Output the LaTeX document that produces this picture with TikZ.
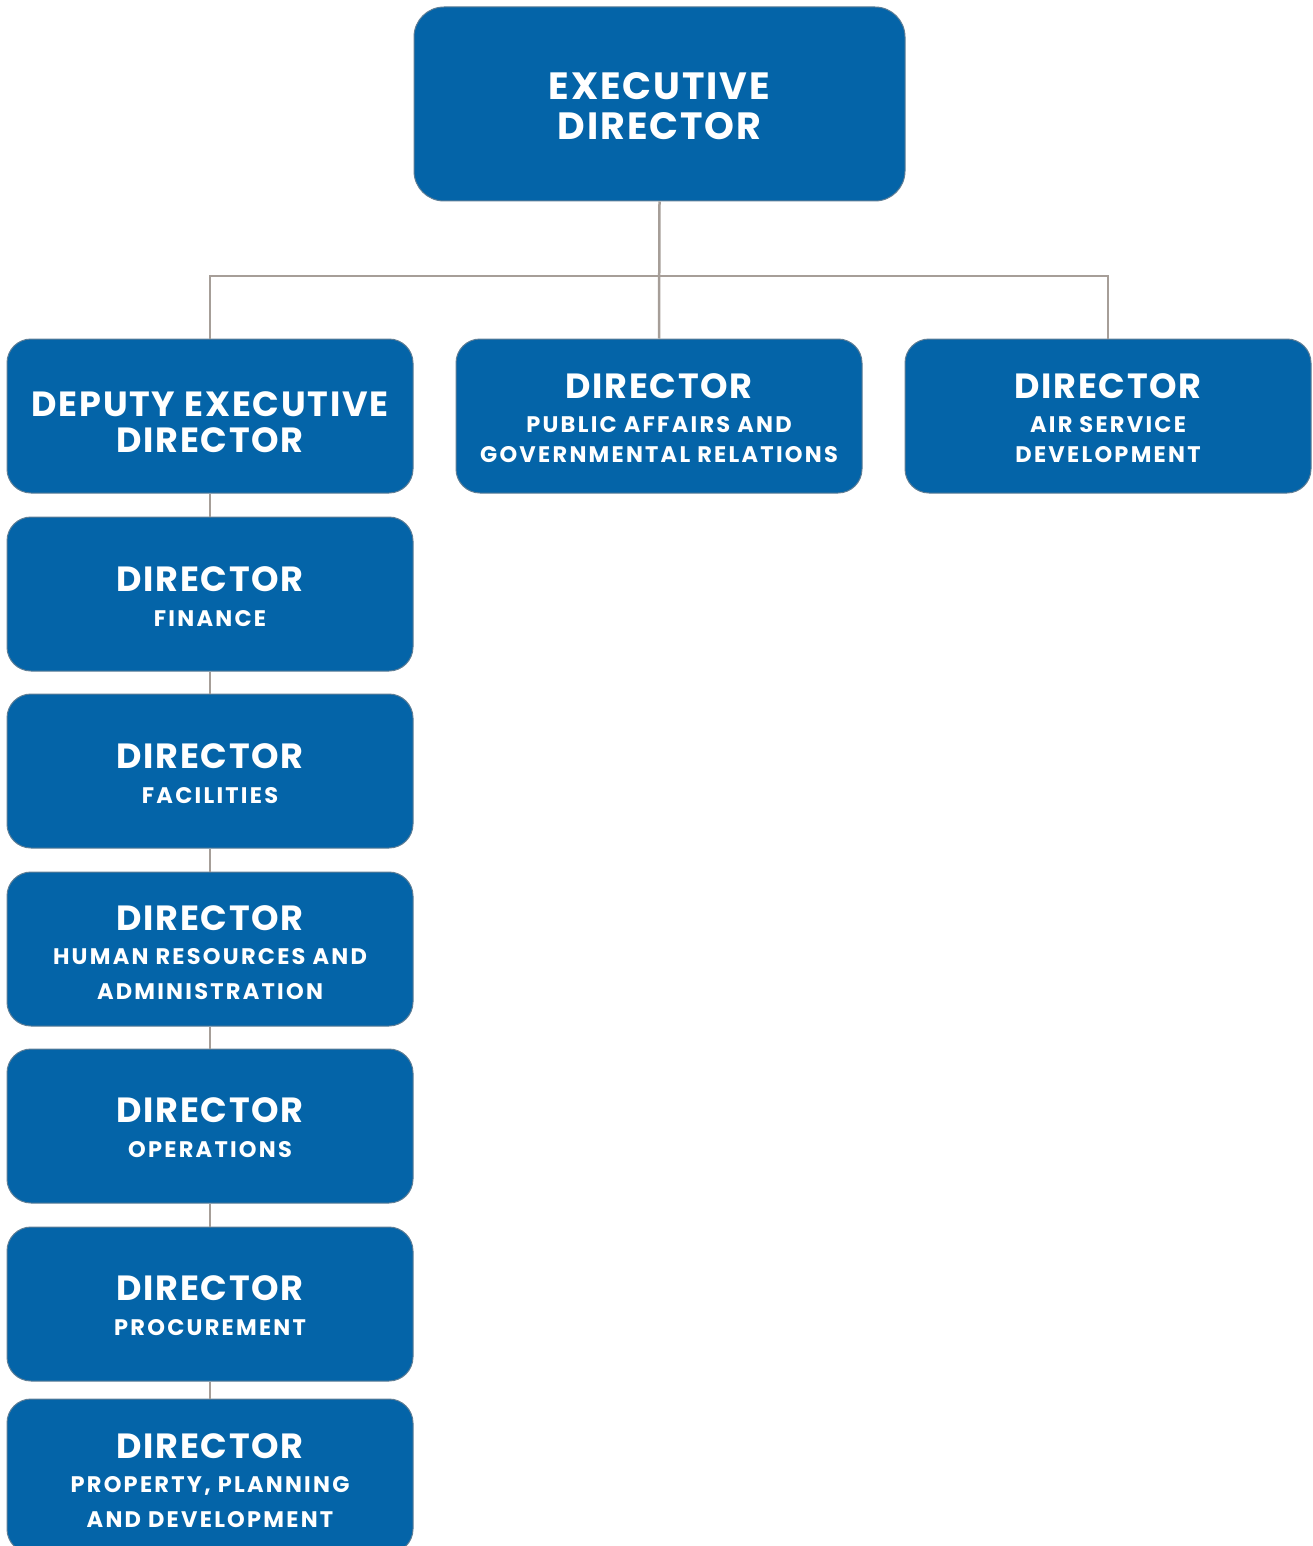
\documentclass[tikz,border=0pt]{standalone}
\usepackage{fontspec}
\setmainfont{Poppins}
\newfontfamily\titlefont{Poppins}[LetterSpace=5]
\newfontfamily\subfont{Poppins}[LetterSpace=10]
\definecolor{boxblue}{HTML}{0464A8}
\definecolor{boxedge}{HTML}{5E7E96}
\definecolor{linegray}{HTML}{A69E98}
\newcommand{\ttl}[1]{{\fontsize{35}{35}\titlefont\bfseries #1}}
\newcommand{\sbt}[1]{{\fontsize{22.5}{35}\subfont\bfseries #1}}
\begin{document}
\begin{tikzpicture}[x=1pt,y=-1pt,
  orgbox/.style={draw=boxedge, line width=1pt, fill=boxblue, rounded corners=24pt,
    minimum width=406pt, minimum height=154pt, inner sep=0pt},
  txt/.style={text=white, align=center, inner sep=0pt, font=\fontsize{22.5}{35}\selectfont},
  conn/.style={draw=linegray, line width=2.5pt}]
\useasboundingbox (0,0) rectangle (1312,1546);
\coordinate (hub) at (659,276);
\node[orgbox, minimum width=491pt, minimum height=194pt, rounded corners=30pt] (exec) at (659.5,104) {};
\node[txt, font=\fontsize{38}{40}\titlefont\bfseries] (exec-t) at ([yshift=-2pt]exec.center) {EXECUTIVE\\DIRECTOR};
\node[orgbox] (dep) at (210,416) {};
\node[txt, font=\fontsize{35}{36}\titlefont\bfseries] (dep-t) at ([yshift=-6pt]dep.center) {DEPUTY EXECUTIVE\\DIRECTOR};
\node[orgbox] (pa) at (659,416) {};
\node[txt] (pa-t) at ([yshift=-2.5pt]pa.center) {\ttl{DIRECTOR}\\[-1pt]\sbt{PUBLIC AFFAIRS AND}\\[-5pt]\sbt{GOVERNMENTAL RELATIONS}};
\node[orgbox] (as) at (1108,416) {};
\node[txt] (as-t) at ([yshift=-2.5pt]as.center) {\ttl{DIRECTOR}\\[-1pt]\sbt{AIR SERVICE}\\[-5pt]\sbt{DEVELOPMENT}};
\node[orgbox] (fin) at (210,594) {};
\node[txt] (fin-t) at ([yshift=-2.5pt]fin.center) {\ttl{DIRECTOR}\\\sbt{FINANCE}};
\node[orgbox] (fac) at (210,771) {};
\node[txt] (fac-t) at ([yshift=-2.5pt]fac.center) {\ttl{DIRECTOR}\\\sbt{FACILITIES}};
\node[orgbox] (hr) at (210,949) {};
\node[txt] (hr-t) at ([yshift=-3.5pt]hr.center) {\ttl{DIRECTOR}\\[-1pt]\sbt{HUMAN RESOURCES AND}\\\sbt{ADMINISTRATION}};
\node[orgbox] (ops) at (210,1126) {};
\node[txt] (ops-t) at ([yshift=-2pt]ops.center) {\ttl{DIRECTOR}\\\sbt{OPERATIONS}};
\node[orgbox] (proc) at (210,1304) {};
\node[txt] (proc-t) at ([yshift=-2pt]proc.center) {\ttl{DIRECTOR}\\\sbt{PROCUREMENT}};
\node[orgbox] (prop) at (210,1476) {};
\node[txt] (prop-t) at ([yshift=-5pt]prop.center) {\ttl{DIRECTOR}\\[-1pt]\sbt{PROPERTY, PLANNING}\\\sbt{AND DEVELOPMENT}};
\draw[conn] (exec.south) -- (pa.north);
\draw[conn] (dep.north) |- (hub) -| (as.north);
\draw[conn] (dep.south) -- (fin.north);
\draw[conn] (fin.south) -- (fac.north);
\draw[conn] (fac.south) -- (hr.north);
\draw[conn] (hr.south) -- (ops.north);
\draw[conn] (ops.south) -- (proc.north);
\draw[conn] (proc.south) -- (prop.north);
\end{tikzpicture}
\end{document}
